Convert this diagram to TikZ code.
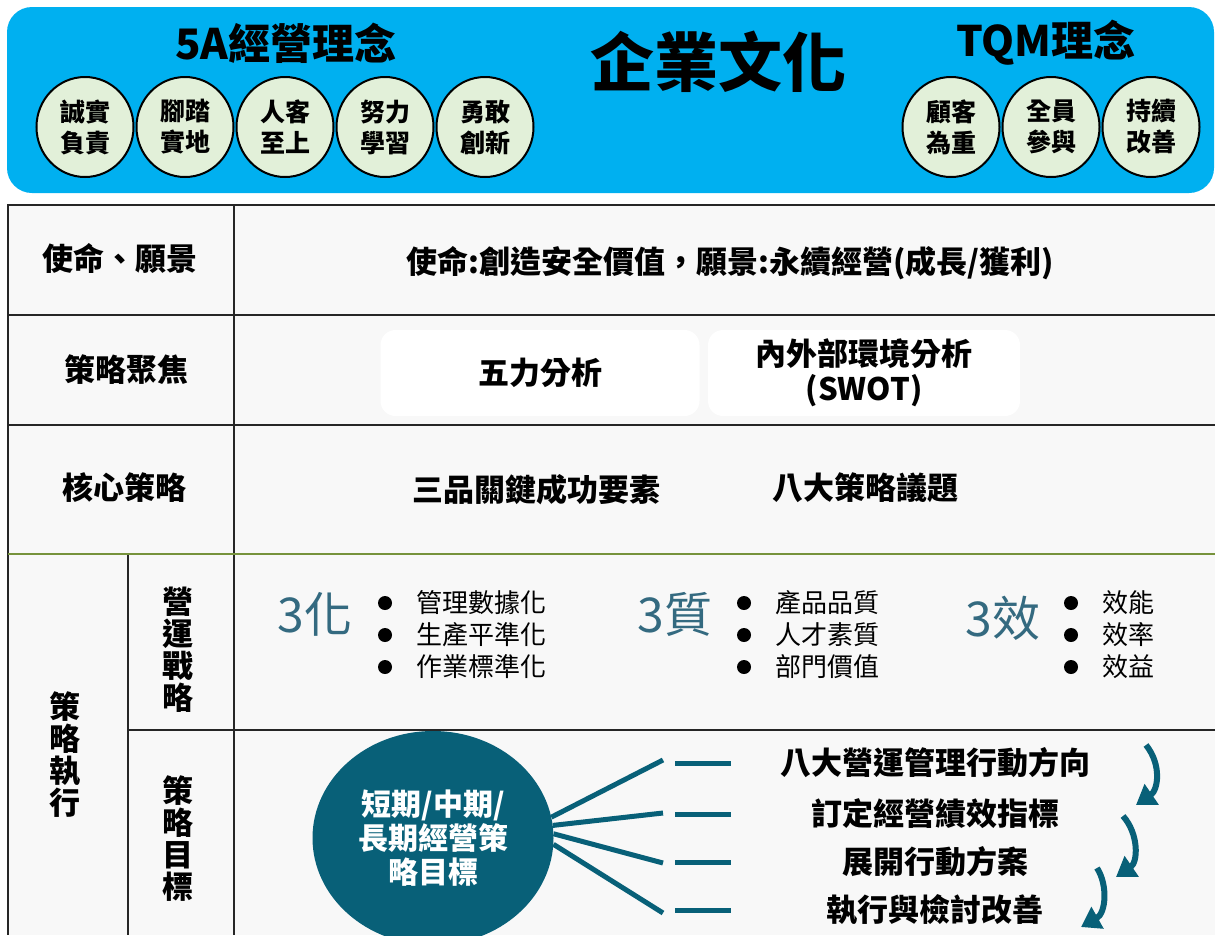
\documentclass[tikz,border=0pt]{standalone}
\usepackage{fontspec}
\setmainfont{Noto Sans CJK TC}
\usetikzlibrary{arrows.meta,shapes.geometric}
\definecolor{bannerblue}{RGB}{0,176,240}
\definecolor{paleleaf}{RGB}{226,240,217}
\definecolor{deepteal}{RGB}{8,96,120}
\definecolor{softteal}{RGB}{52,106,128}
\definecolor{olivegreen}{RGB}{119,147,60}
\definecolor{cellgray}{RGB}{248,248,248}
\tikzset{
  title/.style={font=\bfseries\fontsize{42}{42}\selectfont},
  idea/.style={draw, ellipse, line width=2pt, fill=paleleaf, inner sep=0pt,
    minimum width=97pt, minimum height=100pt, align=center,
    font=\bfseries\fontsize{25}{31}\selectfont},
  grid/.style={line width=2.5pt, black!85},
  rowhead/.style={font=\bfseries\fontsize{31}{32}\selectfont, align=center},
  panel/.style={fill=white, rounded corners=15pt, minimum height=86pt, align=center,
    font=\bfseries\fontsize{31}{35}\selectfont},
  triad/.style={text=softteal, font=\fontsize{48}{48}\selectfont},
  listitem/.style={anchor=west, inner sep=0pt, font=\fontsize{26}{26}\selectfont},
  goal/.style={ellipse, fill=deepteal, text=white, minimum width=241pt, minimum height=214pt,
    align=center, font=\bfseries\fontsize{30}{34}\selectfont},
  bar/.style={fill=deepteal, minimum width=56pt, minimum height=5pt, inner sep=0pt},
  fan/.style={line width=5pt, deepteal},
  turn/.style={line width=6pt, deepteal, -{Triangle[length=19pt,width=24pt]}}
}
\begin{document}
\begin{tikzpicture}[x=1pt,y=-1pt]
    \useasboundingbox (0,0) rectangle (1215,935);
    \fill[white] (0,0) rectangle (1215,935);
    \fill[bannerblue, rounded corners=25pt] (7,7) rectangle (1214,193);
    \node[title] (fivea) at (286,43) {5A經營理念};
    \node[title] (tqm) at (1046,43) {TQM理念};
    \node[font=\bfseries\fontsize{64}{64}\selectfont] (culture) at (718,62) {企業文化};
    \foreach \t[count=\i] in {{誠實\\負責}, {腳踏\\實地}, {人客\\至上}, {努力\\學習}, {勇敢\\創新}}
        \node[idea] (a\i) at (-15+\i*100,127) {\t};
    \foreach \t[count=\i] in {{顧客\\為重}, {全員\\參與}, {持續\\改善}}
        \node[idea] (q\i) at (851+\i*100,127) {\t};

    \fill[cellgray] (8,205) rectangle (1215,935);
    \draw[grid] (1215,205) -- (8,205) -- (8,935);
    \draw[grid] (234,205) -- (234,935);
    \draw[grid] (8,315) -- (1215,315);
    \draw[grid] (8,425) -- (1215,425);
    \draw[grid] (128,554) -- (128,935);
    \draw[grid] (128,730) -- (1215,730);
    \draw[line width=2.5pt, olivegreen] (8,554) -- (1215,554);

    \node[rowhead] (mission) at (120,258) {使命、願景};
    \node[rowhead] (missiontext) at (730,263) {使命:創造安全價值，願景:永續經營(成長/獲利)};
    \node[rowhead] (focus) at (126,370) {策略聚焦};
    \node[panel, minimum width=319pt] (fiveforce) at (540,373) {五力分析};
    \node[panel, minimum width=312pt] (swot) at (864,373) {內外部環境分析\\(SWOT)};
    \node[rowhead] (core) at (124,488) {核心策略};
    \node[rowhead] (keyfactor) at (536,490) {三品關鍵成功要素};
    \node[rowhead] (issues) at (865,488) {八大策略議題};
    \node[rowhead] (execute) at (65,755) {策\\略\\執\\行};
    \node[rowhead] (operate) at (178,650) {營\\運\\戰\\略};
    \node[rowhead] (target) at (178,839) {策\\略\\目\\標};

    \node[triad] (hua) at (315,614) {3化};
    \node[triad] (zhi) at (675,614) {3質};
    \node[triad] (xiao) at (1003,618) {3效};
    \foreach \bx in {385,744,1071}
        \foreach \by in {603,635,667}
            \fill (\bx,\by) circle (7pt);
    \foreach \t[count=\i] in {管理數據化, 生產平準化, 作業標準化}
        \node[listitem] (h\i) at (416,571+\i*32) {\t};
    \foreach \t[count=\i] in {產品品質, 人才素質, 部門價值}
        \node[listitem] (z\i) at (775,571+\i*32) {\t};
    \foreach \t[count=\i] in {效能, 效率, 效益}
        \node[listitem] (x\i) at (1102,571+\i*32) {\t};

    \node[goal] (plan) at (433,838) {短期/中期/\\長期經營策\\略目標};
    \foreach \t/\y/\a[count=\i] in {八大營運管理行動方向/763/10, 訂定經營績效指標/814/6, 展開行動方案/862/2, 執行與檢討改善/910/-3} {
        \node[bar] (b\i) at (703,\y) {};
        \coordinate (f\i) at (663,\y+2*\i-5);
        \draw[fan] (plan.\a) -- (f\i);
        \node[rowhead] (s\i) at (935,\y) {\t};
    }
    \coordinate (c1) at (1146,745);
    \coordinate (d1) at (1136,805);
    \coordinate (c2) at (1123,816);
    \coordinate (d2) at (1116,877);
    \coordinate (c3) at (1097,868);
    \coordinate (d3) at (1081,927);
    \draw[turn] (c1) .. controls (1162,765) and (1158,790) .. (d1);
    \draw[turn] (c2) .. controls (1139,834) and (1138,862) .. (d2);
    \draw[turn] (c3) .. controls (1108,885) and (1106,913) .. (d3);
\end{tikzpicture}
\end{document}
